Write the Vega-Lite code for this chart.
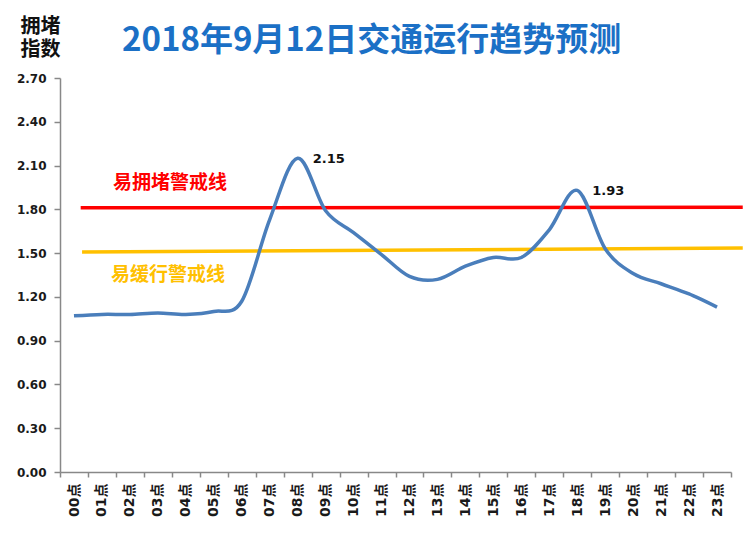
{
  "$schema": "https://vega.github.io/schema/vega-lite/v6.json",
  "width": 671,
  "height": 394,
  "autosize": {"type": "none"},
  "padding": {"left": 60, "top": 78, "right": 19, "bottom": 65},
  "background": "white",
  "config": {"view": {"stroke": null}},
  "title": {
    "text": "2018年9月12日交通运行趋势预测",
    "font": "Noto Sans CJK SC",
    "fontSize": 33,
    "fontWeight": "bold",
    "color": "#1b70c6",
    "anchor": "start",
    "frame": "group",
    "dx": 62,
    "dy": 42,
    "baseline": "top",
    "offset": 0
  },
  "datasets": {
    "traffic": [
      {"hour": 0, "index": 1.07},
      {"hour": 1, "index": 1.08},
      {"hour": 2, "index": 1.08},
      {"hour": 3, "index": 1.09},
      {"hour": 4, "index": 1.08},
      {"hour": 5, "index": 1.10},
      {"hour": 6, "index": 1.17},
      {"hour": 7, "index": 1.73},
      {"hour": 8, "index": 2.15},
      {"hour": 9, "index": 1.79},
      {"hour": 10, "index": 1.64},
      {"hour": 11, "index": 1.49},
      {"hour": 12, "index": 1.34},
      {"hour": 13, "index": 1.32},
      {"hour": 14, "index": 1.41},
      {"hour": 15, "index": 1.47},
      {"hour": 16, "index": 1.47},
      {"hour": 17, "index": 1.66},
      {"hour": 18, "index": 1.93},
      {"hour": 19, "index": 1.53},
      {"hour": 20, "index": 1.36},
      {"hour": 21, "index": 1.29},
      {"hour": 22, "index": 1.22},
      {"hour": 23, "index": 1.13}
    ],
    "redLine": [
      {"hour": 0.24, "index": 1.81},
      {"hour": 23.92, "index": 1.815}
    ],
    "yellowLine": [
      {"hour": 0.29, "index": 1.508},
      {"hour": 23.92, "index": 1.535}
    ],
    "lineLabels": [
      {"hour": 3.43, "index": 1.98, "label": "易拥堵警戒线", "kind": "red"},
      {"hour": 3.36, "index": 1.35, "label": "易缓行警戒线", "kind": "yellow"}
    ],
    "peaks": [
      {"hour": 8, "index": 2.15, "label": "2.15"},
      {"hour": 18, "index": 1.93, "label": "1.93"}
    ]
  },
  "encoding": {
    "x": {
      "field": "hour",
      "type": "quantitative",
      "scale": {"domain": [-0.5, 23.5], "nice": false, "zero": false},
      "axis": {
        "title": null,
        "grid": false,
        "values": [-0.5, 0.5, 1.5, 2.5, 3.5, 4.5, 5.5, 6.5, 7.5, 8.5, 9.5, 10.5, 11.5, 12.5, 13.5, 14.5, 15.5, 16.5, 17.5, 18.5, 19.5, 20.5, 21.5, 22.5, 23.5],
        "labelExpr": "datum.value < 23 ? ((datum.value + 0.5 < 10 ? '0' : '') + (datum.value + 0.5) + '点') : ''",
        "labelOffset": 14,
        "labelAngle": -90,
        "labelFont": "DejaVu Sans, Noto Sans CJK SC",
        "labelFontSize": 14,
        "labelFontWeight": "bold",
        "labelColor": "#1a1a1a",
        "labelPadding": 6,
        "labelOverlap": false,
        "labelFlush": false,
        "domainColor": "#888888",
        "domainWidth": 1.5,
        "tickColor": "#888888",
        "tickSize": 5,
        "tickWidth": 1.5
      }
    },
    "y": {
      "field": "index",
      "type": "quantitative",
      "scale": {"domain": [0, 2.7], "nice": false, "zero": true},
      "axis": {
        "title": ["拥堵", "指数"],
        "titleFont": "Noto Sans CJK SC",
        "titleFontSize": 20,
        "titleFontWeight": "bold",
        "titleColor": "#111111",
        "titleAngle": 0,
        "titleAlign": "center",
        "titleBaseline": "top",
        "titleLineHeight": 23,
        "titleX": -20,
        "titleY": -62,
        "grid": false,
        "values": [0, 0.3, 0.6, 0.9, 1.2, 1.5, 1.8, 2.1, 2.4, 2.7],
        "format": ".2f",
        "labelFont": "DejaVu Sans",
        "labelFontSize": 12,
        "labelFontWeight": "bold",
        "labelColor": "#1a1a1a",
        "labelPadding": 8,
        "domainColor": "#888888",
        "domainWidth": 1.5,
        "tickColor": "#888888",
        "tickSize": 6,
        "tickWidth": 1.5
      }
    }
  },
  "layer": [
    {
      "data": {"name": "redLine"},
      "mark": {"type": "line", "color": "#ff0000", "strokeWidth": 3.5, "clip": false}
    },
    {
      "data": {"name": "yellowLine"},
      "mark": {"type": "line", "color": "#ffc000", "strokeWidth": 3.5, "clip": false}
    },
    {
      "data": {"name": "traffic"},
      "mark": {"type": "line", "color": "#4a7ebb", "strokeWidth": 3.5, "interpolate": "cardinal"}
    },
    {
      "data": {"name": "lineLabels"},
      "mark": {"type": "text", "font": "Noto Sans CJK SC", "fontSize": 19, "fontWeight": "bold", "align": "center", "baseline": "middle"},
      "encoding": {
        "text": {"field": "label"},
        "color": {"field": "kind", "type": "nominal", "scale": {"domain": ["red", "yellow"], "range": ["#ff0000", "#ffc000"]}, "legend": null}
      }
    },
    {
      "data": {"name": "peaks"},
      "mark": {"type": "text", "font": "DejaVu Sans", "fontSize": 13, "fontWeight": "bold", "align": "left", "baseline": "middle", "dx": 15, "dy": 1, "color": "#111111"},
      "encoding": {"text": {"field": "label"}}
    }
  ]
}
